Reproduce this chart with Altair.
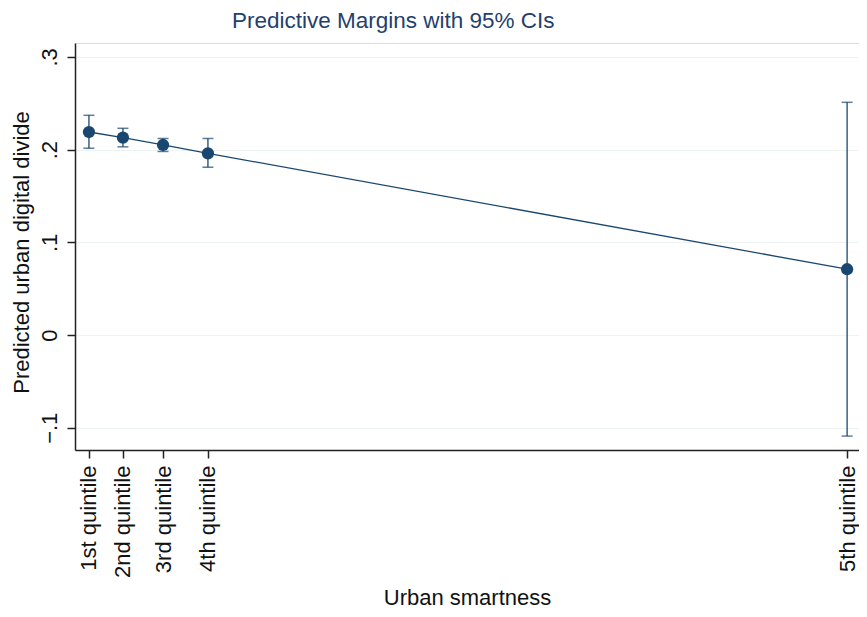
import altair as alt
import pandas as pd

quintiles = ["1st quintile", "2nd quintile", "3rd quintile", "4th quintile", "5th quintile"]
smartness_x = [1.0, 2.0, 3.18, 4.5, 23.3]
margin = [0.219, 0.213, 0.205, 0.196, 0.071]
ci_low = [0.2015, 0.203, 0.198, 0.181, -0.109]
ci_high = [0.237, 0.223, 0.212, 0.212, 0.251]
y_ticks = [-0.1, 0.0, 0.1, 0.2, 0.3]

df = pd.DataFrame({"q": quintiles, "x": smartness_x, "m": margin, "lo": ci_low, "hi": ci_high})

NAVY = "#1a476f"
FONT = "Liberation Sans"

label_expr = ""
for xv, q in zip(smartness_x, quintiles):
    label_expr += f"abs(datum.value - {xv}) < 0.001 ? '{q}' : "
label_expr += "''"

xs = alt.Scale(domain=[0.59, 23.65], nice=False, zero=False)
ys = alt.Scale(domain=[-0.124, 0.315], nice=False, zero=False)

x_axis = alt.Axis(values=smartness_x, labelExpr=label_expr, labelAngle=270, labelAlign="right",
                  labelBaseline="middle", labelPadding=7, tickSize=8, grid=False,
                  title="Urban smartness", titlePadding=10, labelFontSize=22, titleFontSize=22,
                  labelColor="#111", titleColor="#111", domainColor="#222", tickColor="#222",
                  domainWidth=1.5, tickWidth=1.5, labelFont=FONT, titleFont=FONT,
                  titleFontWeight="normal", labelOverlap=False)
y_axis = alt.Axis(values=y_ticks,
                  labelExpr="abs(datum.value) < 0.0001 ? '0' : replace(format(datum.value, '.1f'), '0.', '.')",
                  labelAngle=270, labelAlign="center", labelBaseline="alphabetic", labelPadding=11,
                  tickSize=8, grid=True, gridColor="#edf2f2", gridWidth=1.2,
                  title="Predicted urban digital divide", titlePadding=5, titleY=209,
                  labelFontSize=22, titleFontSize=22,
                  labelColor="#111", titleColor="#111", domainColor="#222", tickColor="#222",
                  domainWidth=1.5, tickWidth=1.5, labelFont=FONT, titleFont=FONT, titleFontWeight="normal")

base = alt.Chart(df)

rule = base.mark_rule(color=NAVY, strokeWidth=1.3).encode(
    x=alt.X("x:Q", scale=xs, axis=x_axis), y=alt.Y("lo:Q", scale=ys, axis=y_axis), y2="hi:Q")
cap_lo = base.mark_tick(color=NAVY, orient="horizontal", size=11, thickness=1.5).encode(
    x=alt.X("x:Q", scale=xs), y=alt.Y("lo:Q", scale=ys))
cap_hi = base.mark_tick(color=NAVY, orient="horizontal", size=11, thickness=1.5).encode(
    x=alt.X("x:Q", scale=xs), y=alt.Y("hi:Q", scale=ys))
line = base.mark_line(color=NAVY, strokeWidth=1.3).encode(
    x=alt.X("x:Q", scale=xs), y=alt.Y("m:Q", scale=ys))
pts = base.mark_point(color=NAVY, filled=True, opacity=1, size=150).encode(
    x=alt.X("x:Q", scale=xs), y=alt.Y("m:Q", scale=ys))

chart = alt.layer(rule, cap_lo, cap_hi, line, pts).properties(
    width=784, height=407,
    autosize=alt.AutoSizeParams(type="none"),
    padding={"left": 67, "top": 35, "right": 0, "bottom": 159},
    title=alt.TitleParams("Predictive Margins with 95% CIs", anchor="start", frame="group", dx=157,
                          offset=-7, baseline="alphabetic", fontSize=22.5, font=FONT,
                          fontWeight="normal", color="#243f6e"),
).configure_view(stroke=None).configure(background="white")

chart.save("out.html", embed_options={"renderer": "svg", "actions": False})
